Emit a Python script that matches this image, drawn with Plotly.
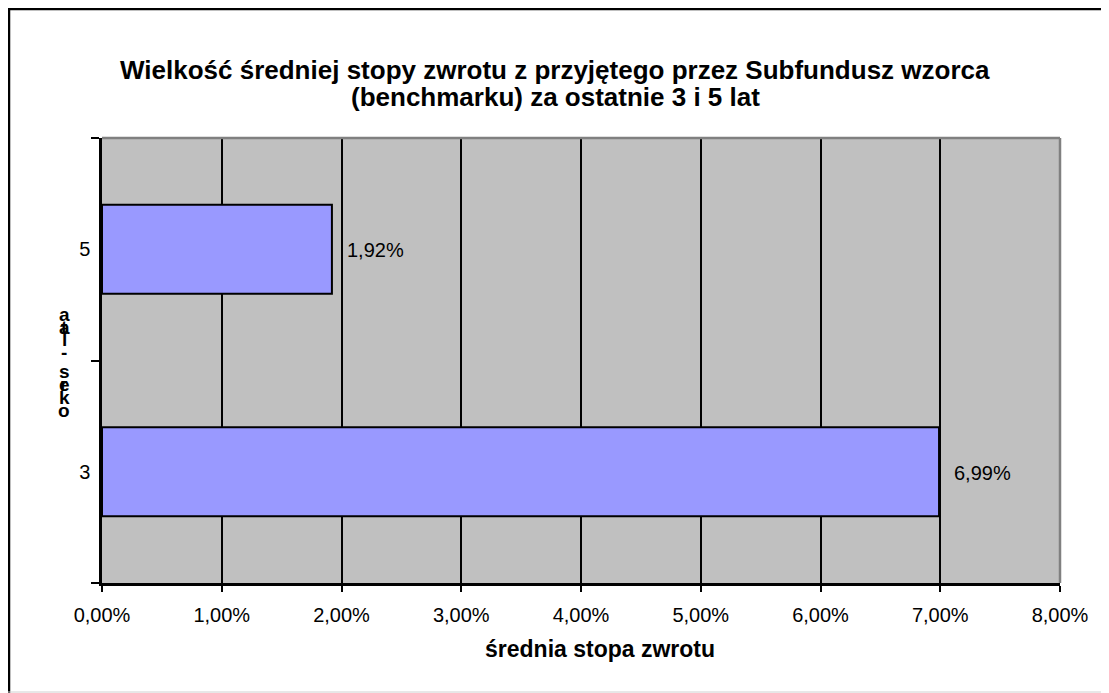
import plotly.graph_objects as go

# ── Data ────────────────────────────────────────────────────────────────────
periods = ["3", "5"]
returns = [0.0699, 0.0192]
x_ticks = [0, 0.01, 0.02, 0.03, 0.04, 0.05, 0.06, 0.07, 0.08]

title_lines = ["Wielkość średniej stopy zwrotu z przyjętego przez Subfundusz wzorca",
               "(benchmarku) za ostatnie 3 i 5 lat"]
x_title = "średnia stopa zwrotu"
# y-axis title "okres - lata", drawn stacked/overlapping the way the original shows it
y_title_chars = [("a", 314), ("a", 327), ("t", 327), ("l", 339), ("-", 352),
                 ("s", 371), ("e", 384), ("r", 384), ("k", 397), ("o", 410)]

FONT = "Arial, Liberation Sans"

# page is offset by the 8px body margin; plot area spans page px 102..1060 x 138..583
PL, PT, PR, PB = 102, 138, 1060, 583
pw, ph = float(PR - PL), float(PB - PT)


def px(x):
    return (x - PL) / pw


def py(y):
    return (PB - y) / ph


fig = go.Figure()
fig.add_trace(
    go.Bar(
        x=returns,
        y=periods,
        orientation="h",
        width=0.4,
        marker=dict(color="#9999FF", line=dict(color="#000000", width=2)),
        hoverinfo="skip",
    )
)

# ── Outer chart border (left + top black; bottom light grey) ────────────────
shapes = [
    dict(type="line", xref="paper", yref="paper", x0=px(9), x1=px(9), y0=py(8), y1=py(693),
         line=dict(color="#000000", width=2.5)),
    dict(type="line", xref="paper", yref="paper", x0=px(8), x1=px(1120), y0=py(9), y1=py(9),
         line=dict(color="#000000", width=2.5)),
    dict(type="line", xref="paper", yref="paper", x0=px(8), x1=px(1120), y0=py(692), y1=py(692),
         line=dict(color="#D0D0D0", width=1)),
    # grey frame on top/right of plot area
    dict(type="line", xref="paper", yref="paper", x0=0, x1=1, y0=1, y1=1,
         line=dict(color="#808080", width=2.5)),
    dict(type="line", xref="paper", yref="paper", x0=1, x1=1, y0=0, y1=1,
         line=dict(color="#808080", width=2.5)),
]

annotations = []
# value labels, placed on the data scales just right of each bar
# (category axis: annotation y is the category index)
for idx, v in enumerate(returns):
    annotations.append(
        dict(text=f"{v * 100:.2f}%".replace(".", ","), x=v, y=idx, xref="x", yref="y",
             showarrow=False, xanchor="left", yanchor="middle", xshift=13, yshift=-1,
             font=dict(family=FONT, size=20, color="#000000"))
    )
for line, y in zip(title_lines, [70, 97]):
    annotations.append(
        dict(text=f"<b>{line}</b>", xref="paper", yref="paper", x=px(555), y=py(y),
             showarrow=False, xanchor="center", yanchor="middle",
             font=dict(family=FONT, size=26, color="#000000"))
    )
annotations.append(
    dict(text=f"<b>{x_title}</b>", xref="paper", yref="paper", x=px(600), y=py(649),
         showarrow=False, xanchor="center", yanchor="middle",
         font=dict(family=FONT, size=23, color="#000000"))
)
for ch, y in y_title_chars:
    annotations.append(
        dict(text=f"<b>{ch}</b>", xref="paper", yref="paper", x=px(64), y=py(y),
             showarrow=False, xanchor="center", yanchor="middle",
             font=dict(family=FONT, size=19, color="#000000"))
    )

fig.update_layout(
    width=1101,
    height=685,
    separators=",.",
    paper_bgcolor="#FFFFFF",
    plot_bgcolor="#C0C0C0",
    showlegend=False,
    bargap=0.6,
    margin=dict(l=PL - 8, r=1101 - (PR - 8), t=PT - 8, b=685 - (PB - 8)),
    font=dict(family=FONT, size=20, color="#000000"),
    xaxis=dict(
        range=[0, 0.08],
        tickvals=x_ticks,
        tickformat=".2%",
        showgrid=True,
        gridcolor="#000000",
        gridwidth=2,
        showline=True,
        linecolor="#000000",
        linewidth=2.5,
        ticks="outside",
        ticklen=6,
        tickwidth=2,
        tickcolor="#000000",
        tickfont=dict(size=20),
        ticklabelstandoff=6,
        zeroline=False,
    ),
    yaxis=dict(
        type="category",
        categoryorder="array",
        categoryarray=periods,
        range=[-0.5, 1.5],
        tickson="boundaries",
        showgrid=False,
        showline=True,
        linecolor="#000000",
        linewidth=2.5,
        ticks="outside",
        ticklen=8,
        tickwidth=2,
        tickcolor="#000000",
        tickfont=dict(size=20),
        ticklabelstandoff=5,
    ),
    shapes=shapes,
    annotations=annotations,
)

fig.write_html("out.html")
